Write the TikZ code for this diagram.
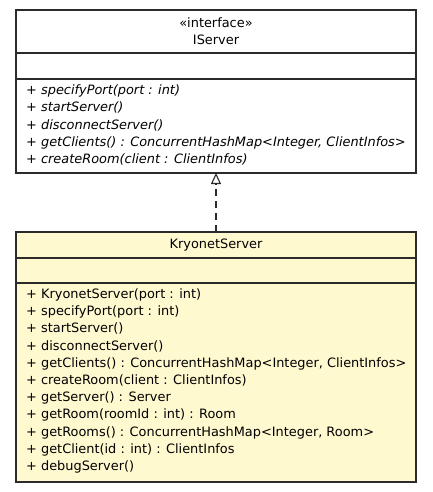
\documentclass[tikz,border=0pt]{standalone}
\usepackage{fontspec}
\setmainfont{DejaVu Sans}
\usetikzlibrary{arrows.meta}
\definecolor{boxline}{HTML}{2B2B2B}
\definecolor{classfill}{HTML}{FFF9D0}
\begin{document}
\begin{tikzpicture}[x=1pt,y=-1pt,
  classbox/.style={draw=boxline, line width=1.2pt, rectangle, minimum width=400pt, inner sep=0pt, outer sep=0pt},
  divider/.style={draw=boxline, line width=1.2pt},
  member/.style={anchor=base west, inner sep=0pt, font=\fontsize{12.9}{15}\selectfont},
  title/.style={anchor=base, inner sep=0pt, font=\fontsize{12.9}{15}\selectfont},
  realize/.style={draw=boxline, line width=1.2pt, dash pattern=on 7pt off 5pt, -{Triangle[open, length=11pt, width=10pt, line width=1.1pt]}}
]
\useasboundingbox (0,0) rectangle (432,492);
\fill[white] (0,0) rectangle (432,492);

% IServer
\node[classbox, fill=white, minimum height=163pt] (iserver) at (216,91.5) {};
\draw[divider] (16,53) -- (416,53);
\draw[divider] (16,79) -- (416,79);
\node[title] (istereo) at (216,27.7) {«interface»};
\node[title] (iname) at (216,45) {IServer};
\node[member] (i1) at (26,94.5) {\itshape + specifyPort(port : int)};
\node[member] (i2) at (26,111.8) {\itshape + startServer()};
\node[member] (i3) at (26,129.1) {\itshape + disconnectServer()};
\node[member] (i4) at (26,146.4) {\itshape + getClients() : ConcurrentHashMap<Integer, ClientInfos>};
\node[member] (i5) at (26,163.7) {\itshape + createRoom(client : ClientInfos)};

% KryonetServer
\node[classbox, fill=classfill, minimum height=250pt] (kserver) at (216,357) {};
\draw[divider] (16,258) -- (416,258);
\draw[divider] (16,283) -- (416,283);
\node[title] (kname) at (216,248.5) {KryonetServer};
\node[member] (k1) at (26,298.5) {+ KryonetServer(port : int)};
\node[member] (k2) at (26,315.7) {+ specifyPort(port : int)};
\node[member] (k3) at (26,332.9) {+ startServer()};
\node[member] (k4) at (26,350.1) {+ disconnectServer()};
\node[member] (k5) at (26,367.3) {+ getClients() : ConcurrentHashMap<Integer, ClientInfos>};
\node[member] (k6) at (26,384.5) {+ createRoom(client : ClientInfos)};
\node[member] (k7) at (26,401.7) {+ getServer() : Server};
\node[member] (k8) at (26,418.9) {+ getRoom(roomId : int) : Room};
\node[member] (k9) at (26,436.1) {+ getRooms() : ConcurrentHashMap<Integer, Room>};
\node[member] (k10) at (26,453.3) {+ getClient(id : int) : ClientInfos};
\node[member] (k11) at (26,470.5) {+ debugServer()};

% realization
\draw[realize] (kserver.north) -- (iserver.south);
\end{tikzpicture}
\end{document}
